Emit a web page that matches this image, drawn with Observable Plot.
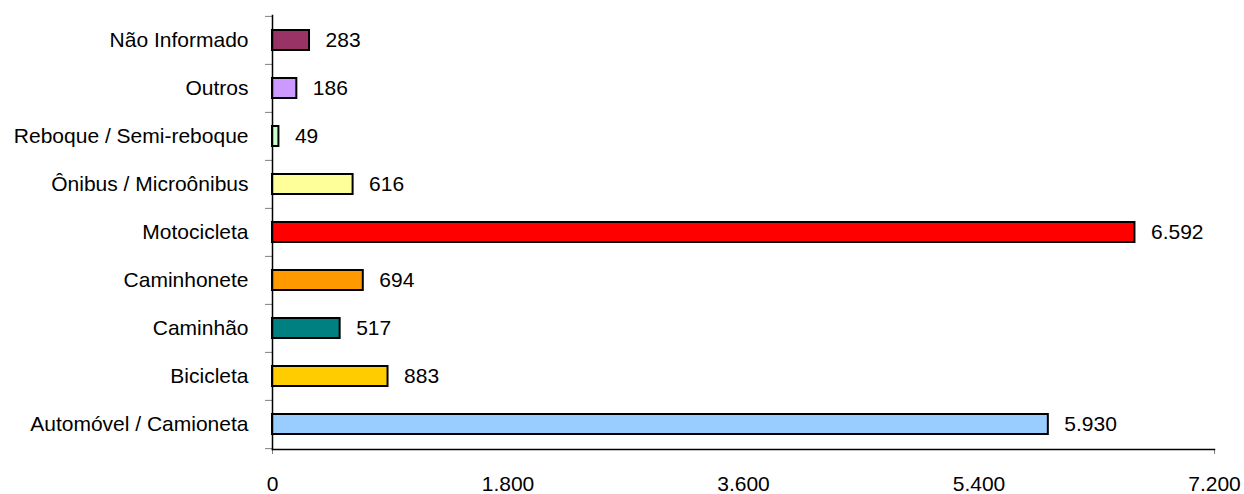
<!DOCTYPE html>
<html>
<head>
<meta charset="utf-8">
<script src="https://cdn.jsdelivr.net/npm/d3@7"></script>
<script src="https://cdn.jsdelivr.net/npm/@observablehq/plot@0.6"></script>
<style>
  html, body { margin: 0; padding: 0; background: #fff; }
  #chart svg { display: block; }
</style>
</head>
<body>
<div id="chart"></div>
<script>
// Categories, top to bottom
const categories = [
  "Não Informado",
  "Outros",
  "Reboque / Semi-reboque",
  "Ônibus / Microônibus",
  "Motocicleta",
  "Caminhonete",
  "Caminhão",
  "Bicicleta",
  "Automóvel / Camioneta"
];
const values = [283, 186, 49, 616, 6592, 694, 517, 883, 5930];
const colors = ["#993366", "#CC99FF", "#CCFFCC", "#FFFF99", "#FF0000", "#FF9900", "#008080", "#FFCC00", "#99CCFF"];
const xTicks = [0, 1800, 3600, 5400, 7200];

const data = categories.map((c, i) => ({category: c, value: values[i], color: colors[i]}));

const ptBR = d3.formatLocale({decimal: ",", thousands: ".", grouping: [3], currency: ["R$", ""]});
const fmt = ptBR.format(",d");

const width = 1244, height = 494;
const marginTop = 15, marginBottom = 45, marginLeft = 272, marginRight = 30;
const step = (height - marginTop - marginBottom) / categories.length;

const plot = Plot.plot({
  width, height, marginTop, marginBottom, marginLeft, marginRight,
  style: {fontFamily: "'Liberation Sans', Arial, sans-serif", fontSize: "21px", color: "#000", background: "#fff"},
  x: {domain: [0, 7200], label: null},
  y: {domain: categories, paddingInner: 0.58, paddingOuter: 0.29, label: null},
  color: {type: "identity"},
  marks: [
    Plot.barX(data, {x: "value", y: "category", fill: "color", stroke: "#000", strokeWidth: 2}),
    Plot.text(data, {x: "value", y: "category", text: d => fmt(d.value), textAnchor: "start", dx: 16, fill: "#000", fontSize: 21}),
    // y axis boundary ticks
    Plot.axisY({tickSize: 7, dy: -step / 2, text: null, label: null, stroke: "#808080", strokeOpacity: 1}),
    Plot.axisY({ticks: [categories[categories.length - 1]], tickSize: 7, dy: step / 2, text: null, label: null, stroke: "#808080", strokeOpacity: 1}),
    Plot.axisY({tickSize: 0, tickPadding: 24, label: null, fill: "#000", fontSize: 21}),
    // x axis
    Plot.axisX({ticks: [0, 7200], tickSize: 5, text: null, label: null, stroke: "#808080", strokeOpacity: 1}),
    Plot.axisX({ticks: xTicks, tickSize: 0, tickPadding: 27, tickFormat: fmt, label: null, fill: "#000", fontSize: 21}),
    Plot.frame({anchor: "bottom", stroke: "#000", strokeWidth: 1.5}),
    Plot.frame({anchor: "left", stroke: "#000", strokeWidth: 1.5})
  ]
});
document.getElementById("chart").appendChild(plot);
</script>
</body>
</html>
